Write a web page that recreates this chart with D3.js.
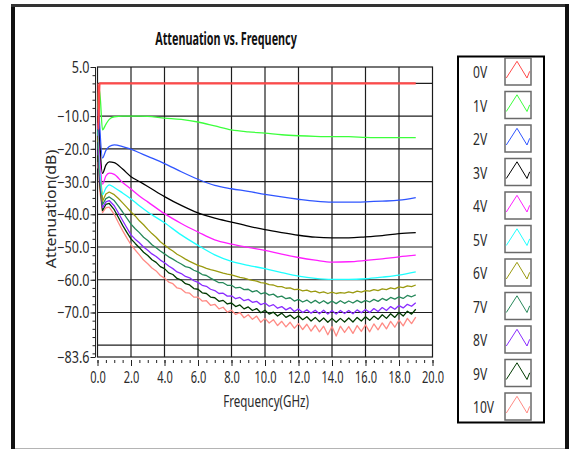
<!DOCTYPE html>
<html><head><meta charset="utf-8">
<script src="https://cdn.jsdelivr.net/npm/d3@7"></script>
<style>body{margin:0;background:#fff}svg{display:block}text{font-family:"Noto Sans",sans-serif;fill:#2a2a2a}</style>
</head><body><svg id="c" width="569" height="449"></svg>
<script>
// ---------- data ----------
const seriesNames = ["0V","1V","2V","3V","4V","5V","6V","7V","8V","9V","10V"];
const seriesColors = ["#ff4a4a","#3cff3c","#2f55ff","#000000","#ff1eff","#1effff","#9a9a10","#26885a","#8a2cff","#003a00","#ff8a84"];

const freqCoarse = [0,0.05,0.12,0.3,0.5,0.7,1.0,1.5,2,2.5,3,4,5,6,7,8,9,10,11,12,13,14,15,16,17,18,19];
const freqFine = [0,0.05,0.12,0.3,0.5,0.7,1.0,1.25,1.5,1.75,
  2,2.25,2.5,2.75, 3,3.25,3.5,3.75, 4,4.25,4.5,4.75, 5,5.25,5.5,5.75,
  6,6.25,6.5,6.75, 7,7.25,7.5,7.75, 8,8.25,8.5,8.75, 9,9.25,9.5,9.75,
  10,10.25,10.5,10.75, 11,11.25,11.5,11.75, 12,12.25,12.5,12.75, 13,13.25,13.5,13.75,
  14,14.25,14.5,14.75, 15,15.25,15.5,15.75, 16,16.25,16.5,16.75, 17,17.25,17.5,17.75,
  18,18.25,18.5,18.75, 19];

const v0V = [0,-14,0,0,0,0,0,0,0,0,0,0,0,0,0,0,0,0,0,0,0,0,0,0,0,0,0];
const v1V = [-8,-3,-2,-14.2,-12.5,-11,-10.2,-10,-10,-10,-10.1,-10.6,-11,-11.8,-13,-14.2,-14.8,-15.2,-15.7,-16,-16.2,-16.3,-16.3,-16.5,-16.6,-16.6,-16.6];
const v2V = [-10,-5,-12,-22.8,-20.5,-19.3,-18.8,-19.3,-20.1,-21.2,-22.3,-24.5,-27,-29.3,-31.2,-32.2,-33,-33.9,-34.7,-35.4,-36,-36.3,-36.3,-36.2,-36,-35.7,-34.9];
const v3V = [-12,-8,-16,-27.5,-25,-24,-24.2,-26.2,-28.5,-30,-31.5,-34.6,-37.3,-39.6,-41.2,-42.4,-43.6,-44.7,-45.6,-46.4,-47,-47.2,-47.2,-46.9,-46.5,-45.9,-45.6];
const v4V = [-14,-10,-19,-30.8,-28.3,-27.4,-27.8,-30.3,-32.3,-34.4,-36.2,-39.8,-42.8,-45.4,-47.8,-49.1,-50.1,-51,-52.2,-53.2,-54,-54.6,-54.5,-54.1,-53.6,-53,-52.5];
const v5V = [-16,-12,-22,-34,-32,-31,-31.8,-33.5,-35.3,-37.4,-39.3,-42.6,-46.3,-49.5,-52.4,-54.4,-55.6,-56.6,-57.8,-58.9,-59.6,-59.9,-59.9,-59.7,-59.2,-58.6,-57.6];

const v6V = [-18,-14,-24,-36,-33.8,-33.2,-34,-35.2,-36.5,-37.9,
  -39.3,-40.5,-42.0,-43.2, -44.6,-45.9,-47.0,-48.4, -49.4,-50.4,-51.2,-52.2, -52.9,-53.7,-54.4,-55.0,
  -55.6,-56.0,-56.5,-56.9, -57.2,-57.6,-58.0,-58.3, -58.5,-58.9,-59.3,-59.5, -59.9,-60.2,-60.4,-60.9,
  -61.0,-61.5,-61.6,-62.1, -62.1,-62.6,-62.5,-63.0, -62.9,-63.4,-63.2,-63.7, -63.5,-64.0,-63.7,-64.2,
  -63.8,-64.2,-63.9,-64.1, -63.7,-64.0,-63.5,-63.8, -63.3,-63.5,-63.0,-63.3, -62.8,-63.0,-62.5,-62.8,
  -62.2,-62.4,-61.9,-62.1, -61.6];
const v7V = [-20,-16,-26,-37,-35.2,-34.7,-35.8,-37.5,-39.3,-41.2,
  -43.0,-44.4,-45.6,-47.0, -48.0,-49.3,-50.2,-51.2, -52.1,-53.0,-53.7,-54.5, -55.2,-56.0,-56.3,-57.1,
  -57.6,-58.4,-58.7,-59.5, -60.2,-60.9,-60.9,-61.7, -61.7,-62.5,-62.3,-63.0, -62.9,-63.7,-63.3,-64.3,
  -63.9,-64.7,-64.4,-65.3, -65.0,-65.8,-65.5,-66.5, -66.0,-66.8,-66.2,-67.1, -66.3,-67.2,-66.4,-67.3,
  -66.5,-67.3,-66.4,-67.2, -66.5,-67.1,-66.3,-67.0, -66.3,-66.8,-66.0,-66.6, -65.7,-66.3,-65.4,-65.9,
  -65.2,-65.7,-64.8,-65.2, -64.6];
const v8V = [-22,-18,-28,-38,-36.2,-35.8,-37.4,-39.6,-41.9,-44.1,
  -46.3,-47.6,-48.7,-50.0, -51.0,-52.1,-52.9,-54.0, -54.8,-55.8,-56.6,-57.6, -58.1,-59.0,-59.4,-60.3,
  -60.8,-61.7,-62.0,-62.9, -63.3,-64.2,-64.1,-65.0, -64.9,-65.8,-65.4,-66.4, -66.0,-66.9,-66.6,-67.6,
  -67.1,-68.1,-67.6,-68.7, -68.2,-69.2,-68.5,-69.7, -68.9,-70.0,-69.2,-70.2, -69.3,-70.4,-69.3,-70.5,
  -69.4,-70.5,-69.4,-70.3, -69.4,-70.4,-69.2,-70.1, -69.1,-70.0,-68.8,-69.7, -68.5,-69.4,-68.2,-69.0,
  -67.9,-68.6,-67.5,-68.1, -67.0];
const v9V = [-24,-20,-30,-38.8,-37,-36.7,-38.6,-41,-43.4,-45.5,
  -47.5,-48.9,-50.2,-51.6, -52.6,-53.9,-54.7,-56.0, -56.6,-57.9,-58.4,-59.6, -60.1,-61.2,-61.6,-62.7,
  -62.9,-64.0,-64.2,-65.3, -65.5,-66.6,-66.3,-67.4, -67.1,-68.2,-67.7,-68.9, -68.3,-69.4,-68.8,-70.1,
  -69.3,-70.5,-69.9,-71.1, -70.2,-71.5,-70.8,-71.9, -71.0,-72.2,-71.3,-72.6, -71.5,-72.8,-71.7,-73.0,
  -71.8,-73.0,-71.8,-72.9, -71.7,-72.9,-71.5,-72.6, -71.3,-72.4,-71.1,-72.1, -70.7,-71.8,-70.4,-71.5,
  -70.0,-71.1,-69.6,-70.5, -69.0];
const v10V = [-26,-22,-32,-39.5,-38,-37.8,-40,-42.6,-45,-47.2,
  -49.3,-50.9,-52.4,-54.0, -55.1,-56.4,-57.3,-58.7, -59.5,-60.7,-61.2,-62.5, -62.8,-63.9,-64.1,-65.3,
  -65.3,-66.5,-66.4,-67.8, -67.5,-68.9,-68.4,-69.9, -69.3,-70.6,-70.0,-71.6, -70.7,-72.1,-71.1,-73.0,
  -71.8,-73.2,-72.2,-74.0, -72.7,-74.4,-73.0,-74.8, -73.4,-75.2,-73.6,-75.7, -73.9,-75.9,-74.2,-76.8,
  -74.3,-77.2,-74.2,-76.1, -74.3,-76.4,-74.0,-75.8, -73.8,-75.9,-73.5,-75.3, -73.2,-75.0,-72.7,-74.5,
  -72.3,-74.1,-71.8,-73.4, -71.4];

const xTickValues = [0,2,4,6,8,10,12,14,16,18,20];
const xMinorTicks = d3.range(0, 20.01, 0.5);
const yTickValues = [5,-10,-20,-30,-40,-50,-60,-70,-83.6];
const yMinorTicks = d3.range(5, -83.6, -2.5);
const xGridValues = [2,4,6,8,10,12,14,16,18];
const yGridValues = [0,-10,-20,-30,-40,-50,-60,-70,-80];

const seriesValues = [v0V,v1V,v2V,v3V,v4V,v5V,v6V,v7V,v8V,v9V,v10V];
const seriesFreq = [freqCoarse,freqCoarse,freqCoarse,freqCoarse,freqCoarse,freqCoarse,freqFine,freqFine,freqFine,freqFine,freqFine];

// ---------- layout ----------
const svg = d3.select("#c");
const PL = 97.5, PR = 432.5, PT = 67, PB = 357;
const x = d3.scaleLinear().domain([0,20]).range([PL,PR]);
const y = d3.scaleLinear().domain([-83.6,5]).range([PB,PT]);

// outer frame
svg.append("rect").attr("x",0).attr("y",0).attr("width",569).attr("height",449).attr("fill","#fff");
svg.append("line").attr("x1",15).attr("x2",565).attr("y1",448.5).attr("y2",448.5).attr("stroke","#b4b4b4").attr("stroke-width",1);
svg.append("rect").attr("x",11).attr("y",4).attr("width",4).attr("height",445).attr("fill","#111");
svg.append("rect").attr("x",11).attr("y",4).attr("width",558).attr("height",3).attr("fill","#333");
svg.append("rect").attr("x",565).attr("y",4).attr("width",4).attr("height",445).attr("fill","#111");

function stext(g, s, tx, ty, fs, sx, sy, anchor, extra) {
  return g.append("text").attr("transform", `translate(${tx},${ty}) ${extra||""} scale(${sx},${sy})`)
    .attr("text-anchor", anchor).attr("font-size", fs).text(s);
}

// title
stext(svg, "Attenuation vs. Frequency", 226, 45, 13.5, 0.8, 1.25, "middle").attr("font-weight", "bold").style("fill","#111");

// plot background & grid
const plot = svg.append("g");
plot.append("rect").attr("x",PL).attr("y",PT).attr("width",PR-PL).attr("height",PB-PT).attr("fill","#fff");
plot.selectAll("line.vg").data(xGridValues).join("line").attr("class","vg")
  .attr("x1",d=>x(d)).attr("x2",d=>x(d)).attr("y1",PT).attr("y2",PB).attr("stroke","#1e1e1e").attr("stroke-width",1.2);
plot.selectAll("line.hg").data(yGridValues).join("line").attr("class","hg")
  .attr("x1",PL).attr("x2",PR).attr("y1",d=>y(d)).attr("y2",d=>y(d)).attr("stroke","#1e1e1e").attr("stroke-width",1.2);
plot.append("rect").attr("x",PL).attr("y",PT).attr("width",PR-PL).attr("height",PB-PT)
  .attr("fill","none").attr("stroke","#1a1a1a").attr("stroke-width",1.2);

// axes
const xAxisMinor = d3.axisBottom(x).tickValues(xMinorTicks).tickSize(3).tickFormat("");
const xAxisMajor = d3.axisBottom(x).tickValues(xTickValues).tickSize(6).tickFormat(d3.format(".1f"));
const gxm = svg.append("g").attr("transform",`translate(0,${PB+3})`).call(xAxisMinor);
const gx = svg.append("g").attr("transform",`translate(0,${PB+3})`).call(xAxisMajor);
[gxm,gx].forEach(g=>{g.select(".domain").remove(); g.selectAll(".tick line").attr("stroke","#222");});
gx.selectAll(".tick text").attr("y",null).attr("dy",null).attr("font-family",null).attr("font-size",13)
  .attr("transform","translate(0,23) scale(0.85,1.22)").style("fill","#2a2a2a");

const yAxisMinor = d3.axisLeft(y).tickValues(yMinorTicks).tickSize(3).tickFormat("");
const yAxisMajor = d3.axisLeft(y).tickValues(yTickValues).tickSize(5).tickFormat(d3.format(".1f"));
const gym = svg.append("g").attr("transform",`translate(${PL-2},0)`).call(yAxisMinor);
const gy = svg.append("g").attr("transform",`translate(${PL-2},0)`).call(yAxisMajor);
gym.select(".domain").remove();
gy.select(".domain").attr("d",`M0,${PT}V${PB}`).attr("stroke","#222");
gym.selectAll(".tick line").attr("stroke","#222");
gy.selectAll(".tick line").attr("stroke","#222");
gy.selectAll(".tick text").attr("x",null).attr("dy",null).attr("font-family",null).attr("font-size",13)
  .attr("transform","translate(-6,5.5) scale(0.97,1.2)").style("fill","#2a2a2a");

// axis titles
stext(svg, "Frequency(GHz)", 266, 407, 13, 0.89, 1.2, "middle");
stext(svg, "Attenuation(dB)", 55.5, 209, 12, 1.33, 1.18, "middle", "rotate(-90)");

// series
svg.append("clipPath").attr("id","pc").append("rect").attr("x",PL).attr("y",PT).attr("width",PR-PL).attr("height",PB-PT);
const lines = svg.append("g").attr("clip-path","url(#pc)");
for (let k = seriesNames.length-1; k >= 0; k--) {
  const fr = seriesFreq[k];
  const gen = d3.line().x((d,i)=>x(fr[i])).y(d=>y(d));
  if (k < 6) gen.curve(d3.curveMonotoneX);
  lines.append("path").datum(seriesValues[k]).attr("d", gen)
    .attr("fill","none").attr("stroke",seriesColors[k]).attr("stroke-width",k===0?2.2:1.3).attr("stroke-linejoin","round");
}

// legend
const L = svg.append("g");
L.append("rect").attr("x",458).attr("y",56.5).attr("width",86).attr("height",366)
  .attr("fill","#fff").attr("stroke","#000").attr("stroke-width",2);
const rowH = 33.5;
seriesNames.forEach((name,i)=>{
  const top = 58 + i*rowH;
  stext(L, name, 473, top+20, 13, 0.93, 1.25, "start").style("fill","#2a2a2a");
  L.append("rect").attr("x",505).attr("y",top).attr("width",26).attr("height",27)
    .attr("fill","#fff").attr("stroke","#6a6a6a").attr("stroke-width",1.5);
  const pts = [[1.3,20],[12,3.3],[22,20],[24.7,13.3]].map(p=>[505+p[0], top+p[1]]);
  L.append("path").attr("d", d3.line()(pts)).attr("fill","none").attr("stroke",seriesColors[i]).attr("stroke-width",1);
});
</script>
</body></html>
